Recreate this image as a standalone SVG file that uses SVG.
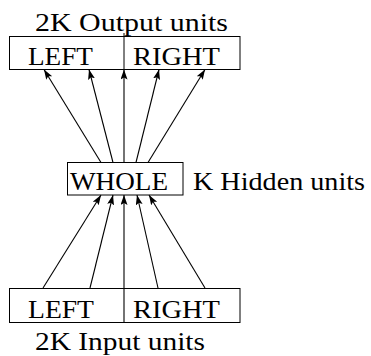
<svg xmlns="http://www.w3.org/2000/svg" width="371" height="356" viewBox="0 0 371 356">
<style>
.box{fill:none;stroke:#000;stroke-width:1}
.t{font-family:"Liberation Serif",serif;font-size:26px;fill:#000}
.c line{stroke:#000;stroke-width:1.1}
</style>
<defs>
<marker id="ah" markerUnits="userSpaceOnUse" markerWidth="12" markerHeight="8" refX="10" refY="3.5" orient="auto">
<path d="M0,0 L10,3.5 L0,7 L2,3.5 z" fill="#000"/>
</marker>
</defs>
<rect width="371" height="356" fill="#fff"/>
<g class="c" id="connectors">
<line x1="101" y1="162.5" x2="44" y2="69.5" marker-end="url(#ah)"/>
<line x1="113" y1="162.5" x2="89" y2="69.5" marker-end="url(#ah)"/>
<line x1="124" y1="162.5" x2="124" y2="69.5" marker-end="url(#ah)"/>
<line x1="136" y1="162.5" x2="159" y2="69.5" marker-end="url(#ah)"/>
<line x1="148" y1="162.5" x2="205" y2="69.5" marker-end="url(#ah)"/>
<line x1="43" y1="288" x2="101" y2="195" marker-end="url(#ah)"/>
<line x1="90" y1="288" x2="113" y2="195" marker-end="url(#ah)"/>
<line x1="124" y1="322" x2="124" y2="195" marker-end="url(#ah)"/>
<line x1="158" y1="288" x2="137" y2="195" marker-end="url(#ah)"/>
<line x1="205" y1="288" x2="149" y2="195" marker-end="url(#ah)"/>
</g>
<g id="output">
<text class="t" x="35" y="31" textLength="193" lengthAdjust="spacingAndGlyphs">2K Output units</text>
<rect class="box" x="9.5" y="36.5" width="230.5" height="33"/>
<line x1="124" y1="33" x2="124" y2="69.5" stroke="#000" stroke-width="1"/>
<text class="t" x="28" y="65" textLength="65" lengthAdjust="spacingAndGlyphs">LEFT</text>
<text class="t" x="133" y="65" textLength="87" lengthAdjust="spacingAndGlyphs">RIGHT</text>
</g>
<g id="hidden">
<rect class="box" x="67.5" y="162.5" width="115.5" height="32.5"/>
<text class="t" x="70" y="190" textLength="98" lengthAdjust="spacingAndGlyphs">WHOLE</text>
<text class="t" x="193" y="190" textLength="172" lengthAdjust="spacingAndGlyphs">K Hidden units</text>
</g>
<g id="input">
<rect class="box" x="9.5" y="288.5" width="230.5" height="34"/>
<text class="t" x="28" y="318" textLength="66" lengthAdjust="spacingAndGlyphs">LEFT</text>
<text class="t" x="133" y="318" textLength="87" lengthAdjust="spacingAndGlyphs">RIGHT</text>
<text class="t" x="35" y="350" textLength="170" lengthAdjust="spacingAndGlyphs">2K Input units</text>
</g>
</svg>
